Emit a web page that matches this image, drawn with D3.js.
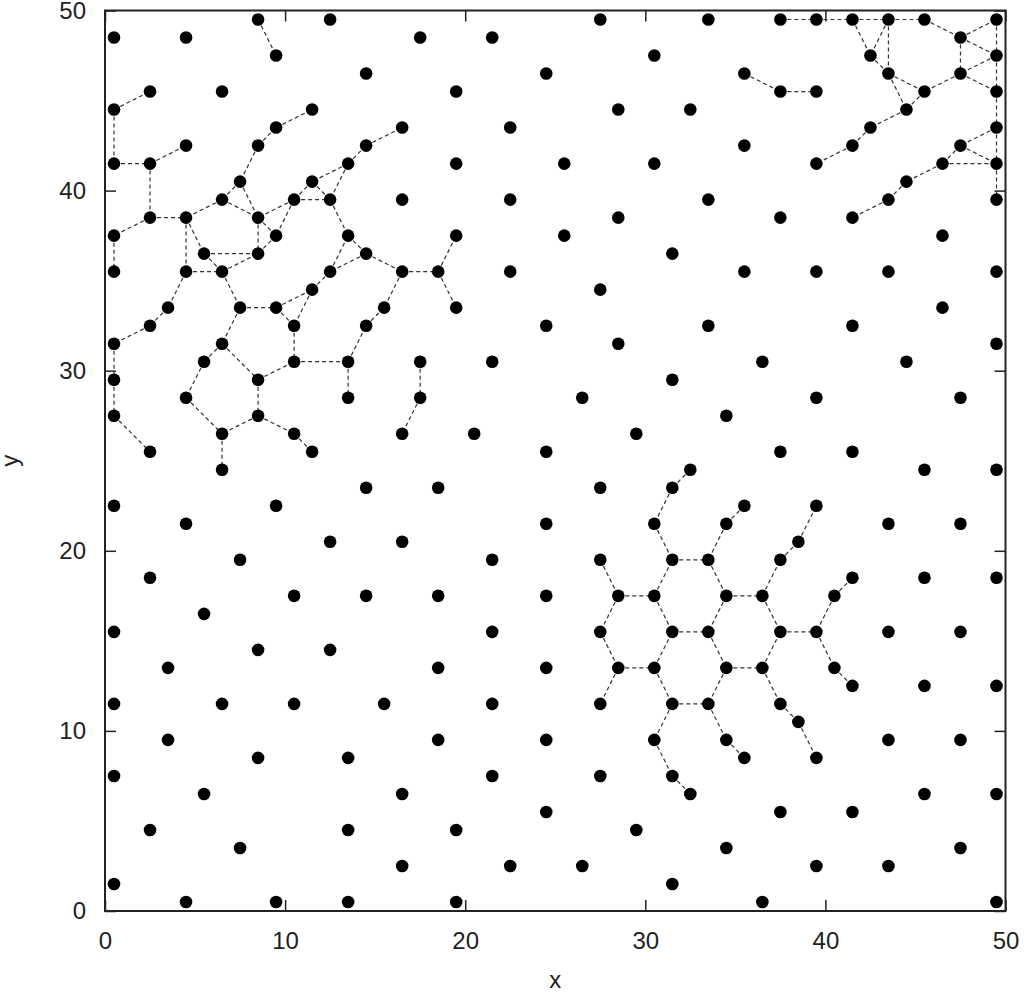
<!DOCTYPE html>
<html>
<head>
<meta charset="utf-8">
<script src="https://cdn.jsdelivr.net/npm/d3@7"></script>
<style>
  body { margin: 0; background: #fff; }
  svg { display: block; }
  .tick text { font-family: "Liberation Sans", Arial, sans-serif; font-size: 24px; fill: #222; }
  .tick line { stroke: #222; stroke-width: 1.5; }
</style>
</head>
<body>
<div id="chart"></div>
<script>
// point rows: one y value per row, and the x values of the points on it
let rowY = [49.5, 48.5, 47.5, 46.5, 45.5, 44.5, 43.5, 42.5, 41.5, 40.5,
            39.5, 38.5, 37.5, 36.5, 35.5, 34.5, 33.5, 32.5, 31.5, 30.5,
            29.5, 28.5, 27.5, 26.5, 25.5, 24.5, 23.5, 22.5, 21.5, 20.5,
            19.5, 18.5, 17.5, 16.5, 15.5, 14.5, 13.5, 12.5, 11.5, 10.5,
            9.5, 8.5, 7.5, 6.5, 5.5, 4.5, 3.5, 2.5, 1.5, 0.5];

let rowX = [
  [8.5, 12.5, 27.5, 33.5, 37.5, 39.5, 41.5, 43.5, 45.5, 49.5],
  [0.5, 4.5, 17.5, 21.5, 47.5],
  [9.5, 30.5, 42.5, 49.5],
  [14.5, 24.5, 35.5, 43.5, 47.5],
  [2.5, 6.5, 19.5, 37.5, 39.5, 45.5, 49.5],
  [0.5, 11.5, 28.5, 32.5, 44.5],
  [9.5, 16.5, 22.5, 42.5, 49.5],
  [4.5, 8.5, 14.5, 35.5, 41.5, 47.5],
  [0.5, 2.5, 13.5, 19.5, 25.5, 30.5, 39.5, 46.5, 49.5],
  [7.5, 11.5, 44.5],
  [6.5, 10.5, 12.5, 16.5, 22.5, 33.5, 43.5, 49.5],
  [2.5, 4.5, 8.5, 28.5, 37.5, 41.5],
  [0.5, 9.5, 13.5, 19.5, 25.5, 46.5],
  [5.5, 8.5, 14.5, 31.5],
  [0.5, 4.5, 6.5, 12.5, 16.5, 18.5, 22.5, 35.5, 39.5, 43.5, 49.5],
  [11.5, 27.5],
  [3.5, 7.5, 9.5, 15.5, 19.5, 46.5],
  [2.5, 10.5, 14.5, 24.5, 33.5, 41.5],
  [0.5, 6.5, 28.5, 49.5],
  [5.5, 10.5, 13.5, 17.5, 21.5, 36.5, 44.5],
  [0.5, 8.5, 31.5],
  [4.5, 13.5, 17.5, 26.5, 39.5, 47.5],
  [0.5, 8.5, 34.5],
  [6.5, 10.5, 16.5, 20.5, 29.5],
  [2.5, 11.5, 24.5, 37.5, 41.5],
  [6.5, 32.5, 45.5, 49.5],
  [14.5, 18.5, 27.5, 31.5],
  [0.5, 9.5, 35.5, 39.5],
  [4.5, 24.5, 30.5, 34.5, 43.5, 47.5],
  [12.5, 16.5, 38.5],
  [7.5, 21.5, 27.5, 31.5, 33.5, 37.5],
  [2.5, 41.5, 45.5, 49.5],
  [10.5, 14.5, 18.5, 24.5, 28.5, 30.5, 34.5, 36.5, 40.5],
  [5.5],
  [0.5, 21.5, 27.5, 31.5, 33.5, 37.5, 39.5, 43.5, 47.5],
  [8.5, 12.5],
  [3.5, 18.5, 24.5, 28.5, 30.5, 34.5, 36.5, 40.5],
  [41.5, 45.5, 49.5],
  [0.5, 6.5, 10.5, 15.5, 21.5, 27.5, 31.5, 33.5, 37.5],
  [38.5],
  [3.5, 18.5, 24.5, 30.5, 34.5, 43.5, 47.5],
  [8.5, 13.5, 35.5, 39.5],
  [0.5, 21.5, 27.5, 31.5],
  [5.5, 16.5, 32.5, 45.5, 49.5],
  [24.5, 37.5, 41.5],
  [2.5, 13.5, 19.5, 29.5],
  [7.5, 34.5, 47.5],
  [16.5, 22.5, 26.5, 39.5, 43.5],
  [0.5, 31.5],
  [4.5, 9.5, 13.5, 19.5, 36.5, 49.5]
];

// dashed bonds: [x1, y1, x2, y2]
let bonds = [
  // upper left cluster
  [8.5,49.5, 9.5,47.5], [0.5,44.5, 2.5,45.5], [0.5,44.5, 0.5,41.5], [0.5,41.5, 2.5,41.5],
  [2.5,41.5, 4.5,42.5], [2.5,41.5, 2.5,38.5], [9.5,43.5, 11.5,44.5], [8.5,42.5, 9.5,43.5],
  [8.5,42.5, 7.5,40.5], [14.5,42.5, 16.5,43.5], [13.5,41.5, 14.5,42.5], [13.5,41.5, 11.5,40.5],
  [13.5,41.5, 12.5,39.5], [11.5,40.5, 10.5,39.5], [11.5,40.5, 12.5,39.5], [10.5,39.5, 12.5,39.5],
  [7.5,40.5, 6.5,39.5], [7.5,40.5, 8.5,38.5], [6.5,39.5, 4.5,38.5], [6.5,39.5, 8.5,38.5],
  [10.5,39.5, 8.5,38.5], [10.5,39.5, 9.5,37.5], [12.5,39.5, 13.5,37.5], [2.5,38.5, 4.5,38.5],
  [2.5,38.5, 0.5,37.5], [0.5,37.5, 0.5,35.5], [4.5,38.5, 4.5,35.5], [4.5,38.5, 5.5,36.5],
  [8.5,38.5, 8.5,36.5], [8.5,38.5, 9.5,37.5], [9.5,37.5, 8.5,36.5], [5.5,36.5, 8.5,36.5],
  [5.5,36.5, 6.5,35.5], [4.5,35.5, 6.5,35.5], [6.5,35.5, 8.5,36.5], [13.5,37.5, 14.5,36.5],
  [14.5,36.5, 16.5,35.5], [14.5,36.5, 12.5,35.5], [12.5,35.5, 11.5,34.5], [12.5,35.5, 13.5,37.5],
  [16.5,35.5, 15.5,33.5], [4.5,35.5, 3.5,33.5], [6.5,35.5, 7.5,33.5], [7.5,33.5, 9.5,33.5],
  [9.5,33.5, 11.5,34.5], [11.5,34.5, 10.5,32.5], [16.5,35.5, 18.5,35.5], [18.5,35.5, 19.5,37.5],
  [18.5,35.5, 19.5,33.5], [3.5,33.5, 2.5,32.5], [2.5,32.5, 0.5,31.5], [0.5,31.5, 0.5,29.5],
  [0.5,29.5, 0.5,27.5], [0.5,27.5, 2.5,25.5], [7.5,33.5, 6.5,31.5], [9.5,33.5, 10.5,32.5],
  [10.5,32.5, 10.5,30.5], [10.5,30.5, 13.5,30.5], [13.5,30.5, 14.5,32.5], [14.5,32.5, 15.5,33.5],
  [13.5,30.5, 13.5,28.5], [6.5,31.5, 5.5,30.5], [6.5,31.5, 8.5,29.5], [5.5,30.5, 4.5,28.5],
  [8.5,29.5, 10.5,30.5], [8.5,29.5, 8.5,27.5], [4.5,28.5, 6.5,26.5], [8.5,27.5, 6.5,26.5],
  [8.5,27.5, 10.5,26.5], [10.5,26.5, 11.5,25.5], [6.5,26.5, 6.5,24.5], [17.5,30.5, 17.5,28.5],
  [17.5,28.5, 16.5,26.5],
  // upper right cluster
  [37.5,49.5, 39.5,49.5], [39.5,49.5, 41.5,49.5], [41.5,49.5, 43.5,49.5], [43.5,49.5, 45.5,49.5],
  [41.5,49.5, 42.5,47.5], [43.5,49.5, 42.5,47.5], [43.5,49.5, 43.5,46.5], [42.5,47.5, 43.5,46.5],
  [45.5,49.5, 47.5,48.5], [47.5,48.5, 49.5,49.5], [47.5,48.5, 49.5,47.5], [47.5,48.5, 47.5,46.5],
  [49.5,49.5, 49.5,47.5], [49.5,47.5, 47.5,46.5], [49.5,47.5, 49.5,45.5], [47.5,46.5, 49.5,45.5],
  [47.5,46.5, 45.5,45.5], [43.5,46.5, 45.5,45.5], [43.5,46.5, 44.5,44.5], [45.5,45.5, 44.5,44.5],
  [44.5,44.5, 42.5,43.5], [42.5,43.5, 41.5,42.5], [41.5,42.5, 39.5,41.5], [49.5,45.5, 49.5,43.5],
  [49.5,43.5, 47.5,42.5], [49.5,43.5, 49.5,41.5], [47.5,42.5, 49.5,41.5], [47.5,42.5, 46.5,41.5],
  [46.5,41.5, 49.5,41.5], [49.5,41.5, 49.5,39.5], [46.5,41.5, 44.5,40.5], [44.5,40.5, 43.5,39.5],
  [43.5,39.5, 41.5,38.5], [35.5,46.5, 37.5,45.5], [37.5,45.5, 39.5,45.5],
  // lower right cluster
  [32.5,24.5, 31.5,23.5], [31.5,23.5, 30.5,21.5], [30.5,21.5, 31.5,19.5], [31.5,19.5, 33.5,19.5],
  [27.5,19.5, 28.5,17.5], [28.5,17.5, 30.5,17.5], [30.5,17.5, 31.5,19.5], [35.5,22.5, 34.5,21.5],
  [34.5,21.5, 33.5,19.5], [33.5,19.5, 34.5,17.5], [34.5,17.5, 36.5,17.5], [36.5,17.5, 37.5,19.5],
  [37.5,19.5, 38.5,20.5], [38.5,20.5, 39.5,22.5], [40.5,17.5, 41.5,18.5], [28.5,17.5, 27.5,15.5],
  [30.5,17.5, 31.5,15.5], [31.5,15.5, 33.5,15.5], [27.5,15.5, 28.5,13.5], [28.5,13.5, 30.5,13.5],
  [30.5,13.5, 31.5,15.5], [28.5,13.5, 27.5,11.5], [30.5,13.5, 31.5,11.5], [31.5,11.5, 33.5,11.5],
  [31.5,11.5, 30.5,9.5], [30.5,9.5, 31.5,7.5], [31.5,7.5, 32.5,6.5], [34.5,17.5, 33.5,15.5],
  [36.5,17.5, 37.5,15.5], [40.5,17.5, 39.5,15.5], [37.5,15.5, 39.5,15.5], [33.5,15.5, 34.5,13.5],
  [34.5,13.5, 36.5,13.5], [36.5,13.5, 37.5,15.5], [39.5,15.5, 40.5,13.5], [40.5,13.5, 41.5,12.5],
  [34.5,13.5, 33.5,11.5], [33.5,11.5, 34.5,9.5], [34.5,9.5, 35.5,8.5], [36.5,13.5, 37.5,11.5],
  [37.5,11.5, 38.5,10.5], [38.5,10.5, 39.5,8.5]
];

let xTicks = [0, 10, 20, 30, 40, 50];
let yTicks = [0, 10, 20, 30, 40, 50];

let points = [];
rowY.forEach((yv, i) => rowX[i].forEach(xv => points.push([xv, yv])));

const WIDTH = 1024, HEIGHT = 992;
const plotLeft = 105, plotRight = 1005.5, plotTop = 10.5, plotBottom = 911;

let x = d3.scaleLinear().domain([0, 50]).range([plotLeft, plotRight]);
let y = d3.scaleLinear().domain([0, 50]).range([plotBottom, plotTop]);

let svg = d3.select('#chart').append('svg').attr('width', WIDTH).attr('height', HEIGHT);

// axes, ticks pointing inward on all four sides
svg.append('g').attr('transform', `translate(0,${plotBottom})`)
  .call(d3.axisBottom(x).tickValues(xTicks).tickSizeInner(-11).tickSizeOuter(0).tickPadding(21));
svg.append('g').attr('transform', `translate(${plotLeft},0)`)
  .call(d3.axisLeft(y).tickValues(yTicks).tickSizeInner(-11).tickSizeOuter(0).tickPadding(19));
svg.append('g').attr('transform', `translate(0,${plotTop})`)
  .call(d3.axisTop(x).tickValues(xTicks).tickSizeInner(-11).tickSizeOuter(0).tickFormat(''));
svg.append('g').attr('transform', `translate(${plotRight},0)`)
  .call(d3.axisRight(y).tickValues(yTicks).tickSizeInner(-11).tickSizeOuter(0).tickFormat(''));
svg.selectAll('.domain').remove();

svg.append('rect')
  .attr('x', plotLeft).attr('y', plotTop)
  .attr('width', plotRight - plotLeft).attr('height', plotBottom - plotTop)
  .attr('fill', 'none').attr('stroke', '#222').attr('stroke-width', 2);

// bonds
svg.append('g').selectAll('line').data(bonds).join('line')
  .attr('x1', d => x(d[0])).attr('y1', d => y(d[1]))
  .attr('x2', d => x(d[2])).attr('y2', d => y(d[3]))
  .attr('stroke', '#333').attr('stroke-width', 1.2)
  .attr('stroke-dasharray', '4,3');

// points
svg.append('g').selectAll('circle').data(points).join('circle')
  .attr('cx', d => x(d[0])).attr('cy', d => y(d[1]))
  .attr('r', 6.3).attr('fill', '#000');

// axis titles
svg.append('text').attr('x', (plotLeft + plotRight) / 2).attr('y', 988)
  .attr('text-anchor', 'middle')
  .style('font-family', '"Liberation Sans", Arial, sans-serif').style('font-size', '24px').style('fill', '#222')
  .text('x');
svg.append('text').attr('transform', `translate(18,${(plotTop + plotBottom) / 2}) rotate(-90)`)
  .attr('text-anchor', 'middle')
  .style('font-family', '"Liberation Sans", Arial, sans-serif').style('font-size', '24px').style('fill', '#222')
  .text('y');
</script>
</body>
</html>
